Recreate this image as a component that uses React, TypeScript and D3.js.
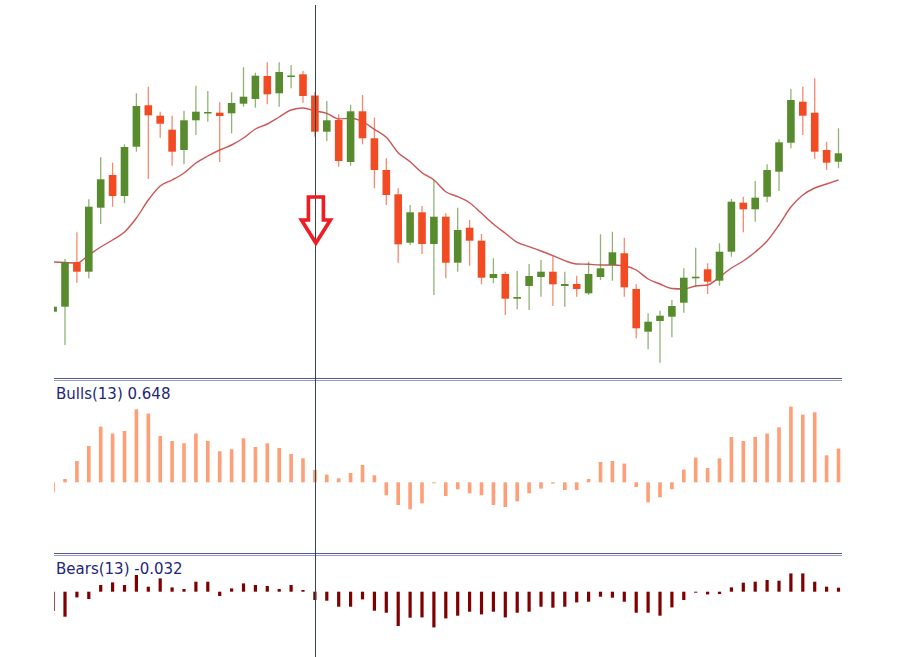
import React from "react";
import * as d3 from "d3";

// Candles (price units)
const opens = [88.3, 93.3, 137.7, 128.3, 192.3, 225, 204, 253.3, 294.7, 284.3, 270.3, 250, 279.7, 287.3, 287.3, 286.7, 296.3, 301, 324, 306.7, 324, 325.7, 304.5, 268.3, 280, 238, 288.7, 261.7, 230, 205.7, 157.3, 187.7, 156, 183.3, 137.3, 172.3, 159.3, 122, 126, 101.3, 114, 123, 128.3, 114, 116, 106.7, 123, 135, 146.7, 111, 68.3, 79, 83.3, 97.3, 121.7, 130.7, 119.3, 148.3, 197.3, 190.7, 203.3, 228.3, 257.3, 298.3, 287.3, 250, 238.3];
const highs = [96, 141, 167.7, 200.7, 242.7, 237.3, 255.7, 306.7, 313.3, 288.3, 284.3, 289.3, 314.3, 309, 297.7, 307.7, 332.7, 327.3, 337.7, 337.7, 335, 329, 308, 299, 285.7, 295.3, 305, 282.3, 241.7, 211.7, 195, 194, 220, 186.7, 192.3, 180, 166, 141.7, 128.3, 129, 136, 140, 144, 128.3, 124.3, 138.3, 165.7, 168.3, 162.3, 115.7, 86.7, 89.3, 100, 131.7, 152.3, 136.7, 156.7, 201, 203.3, 219, 235.7, 260.7, 311, 313.3, 321.7, 258.3, 271.7];
const lows = [87, 55, 117.3, 121.7, 176, 193.3, 196.7, 248.3, 221, 262.3, 234.3, 235.7, 265, 278.3, 238, 266.7, 293.3, 292.3, 295.7, 293.3, 311.7, 297.3, 263.3, 259, 233.3, 234.3, 255.7, 211.7, 195, 137.3, 155, 146, 105, 121.7, 128.3, 134.3, 115.7, 116.7, 85, 90.7, 90, 103.3, 94, 93.3, 103.3, 105, 120, 119.3, 103.3, 61.7, 50.7, 37.3, 62.7, 87.3, 113.3, 106, 114.3, 143.3, 167.7, 178.3, 197.7, 209, 251.7, 265, 241, 230, 231.7];
const closes = [93.3, 137.7, 128.3, 193.3, 220.7, 204, 253, 294, 284.7, 276.3, 248.3, 279.7, 288.3, 288, 284, 297, 303.3, 324.3, 305.7, 328, 324.5, 304, 268.3, 279.7, 239, 288.7, 261.7, 230, 205, 155.7, 187.7, 156, 183.3, 137.3, 170, 159.3, 122.3, 126, 101.3, 103, 124, 128.3, 115.7, 116, 111, 126, 131.7, 147.7, 112.7, 71.7, 78.3, 84.3, 94, 122.3, 123.3, 118.3, 148.3, 198.3, 190.7, 202.3, 230, 257.7, 300, 284.3, 248.3, 237.3, 246.7];

// Moving average (price units)
const maValues = [138, 137.5, 137, 145, 153, 160, 168, 182, 200, 214, 220, 227, 237, 244, 250, 255, 262, 271, 276, 283, 290, 292, 289, 286.7, 281, 281.7, 278.3, 270.7, 262.7, 247.3, 238.3, 227.3, 220, 208.3, 203.3, 197.3, 186.7, 176, 166.7, 157.7, 153.3, 149, 144.3, 139.3, 136, 135.7, 135, 135, 134, 130, 121, 116, 111.5, 111, 114, 115, 123, 132, 139, 148, 159, 175, 193, 205, 212, 216, 220];

// Bulls Power and Bears Power histograms
const bullsValues = [-10, 3.3, 21.3, 36.3, 55.7, 48.7, 51.3, 73, 68.7, 46.3, 41.3, 39, 48.7, 41.3, 31, 33, 44, 35.3, 39, 34.3, 28.3, 24, 12.3, 7.7, 4, 9.3, 17.3, 7, -13, -22.7, -27, -21, -1, -13.7, -7, -11, -13, -22.7, -24.7, -19, -11, -6.3, -1.3, -7.7, -7.7, 3.3, 20.3, 21.3, 18.7, -4.7, -20, -15, -7, 12.7, 24.7, 14.3, 24, 45.3, 41.3, 45.3, 48.7, 55, 75.7, 67.7, 70, 27, 33.7];
const bearsValues = [-19.3, -25, -5.7, -7.3, 6.7, 9.3, 6.7, 16.7, 5, 13.3, 4.3, 2.7, 10, 10, -4.3, 3.3, 8.3, 6.7, 5.7, 2.7, 6.7, 1.7, -8.3, -9, -15, -15, -7.7, -19, -21, -34.3, -26, -25.7, -35.7, -26.7, -24, -20, -22.7, -20, -25.7, -21, -20, -15, -16, -15, -10.7, -10, -5, -6, -10, -21, -21, -24, -15.7, -8.3, -1, -2.7, -2.3, 4.3, 9, 10, 11.7, 11, 18.3, 18.3, 10, 5, 4];

const bullsLabel = "Bulls(13) 0.648";
const bearsLabel = "Bears(13) -0.032";
const cursorIndex = 22;
const arrowTop = 203;
const arrowTip = 157;

const W = 900;
const H = 657;
const LEFT = 54;
const RIGHT = 842;

const GREEN = "#578b2d";
const RED = "#f24a22";

export default function App() {
  const idx = d3.range(opens.length);
  const x = d3.scaleLinear().domain([0, opens.length - 1]).range([53.1, 838.5]);
  const yMain = d3.scaleLinear().domain([0, 400]).range([400, 0]);
  const yBulls = d3.scaleLinear().domain([-40, 100]).range([522.3, 382.3]);
  const yBears = d3.scaleLinear().domain([-60, 40]).range([651.7, 551.7]);

  const maLine = d3
    .line<number>()
    .x((_, i) => x(i))
    .y((d) => yMain(d))
    .curve(d3.curveMonotoneX);

  const bodyW = 7.6;
  const cx = x(cursorIndex);
  const ax = cx + 1;
  const aTop = yMain(arrowTop);
  const aTip = yMain(arrowTip);
  const shoulder = aTop + (aTip - aTop) * 0.5;
  const sh = 7.5;
  const hh = 14.5;
  const arrowPath = [
    [ax - sh, aTop],
    [ax + sh, aTop],
    [ax + sh, shoulder],
    [ax + hh, shoulder],
    [ax, aTip],
    [ax - hh, shoulder],
    [ax - sh, shoulder],
  ]
    .map((p, i) => (i === 0 ? "M" : "L") + p[0] + "," + p[1])
    .join("") + "Z";

  return (
    <svg
      width={W}
      height={H}
      style={{ position: "absolute", left: 0, top: 0, background: "#fff" }}
    >
      <defs>
        <clipPath id="plot">
          <rect x={LEFT} y={0} width={RIGHT - LEFT} height={H} />
        </clipPath>
      </defs>
      <rect x={0} y={0} width={W} height={H} fill="#fff" />
      <g clipPath="url(#plot)">
        <path d={maLine(maValues) || ""} fill="none" stroke="#cc5555" strokeWidth={1.4} />
        {idx.map((i) => {
          const up = closes[i] >= opens[i];
          const col = up ? GREEN : RED;
          const top = yMain(Math.max(opens[i], closes[i]));
          const bot = yMain(Math.min(opens[i], closes[i]));
          return (
            <g key={i}>
              <line
                x1={x(i)}
                x2={x(i)}
                y1={yMain(highs[i])}
                y2={yMain(lows[i])}
                stroke={col}
                strokeOpacity={0.65}
                strokeWidth={1.3}
              />
              <rect
                x={x(i) - bodyW / 2}
                y={top}
                width={bodyW}
                height={Math.max(1.5, bot - top)}
                fill={col}
              />
            </g>
          );
        })}
        {idx.map((i) => {
          const v = bullsValues[i];
          const y0 = yBulls(0);
          const y1 = yBulls(v);
          return (
            <rect
              key={"b" + i}
              x={x(i) - 1.8}
              y={Math.min(y0, y1)}
              width={3.6}
              height={Math.max(1, Math.abs(y1 - y0))}
              fill="#ff9f78"
            />
          );
        })}
        {idx.map((i) => {
          const v = bearsValues[i];
          const y0 = yBears(0);
          const y1 = yBears(v);
          return (
            <rect
              key={"r" + i}
              x={x(i) - 1.6}
              y={Math.min(y0, y1)}
              width={3.2}
              height={Math.max(1, Math.abs(y1 - y0))}
              fill="#7f0000"
            />
          );
        })}
      </g>
      <line x1={LEFT} x2={RIGHT} y1={378.5} y2={378.5} stroke="#55559a" strokeWidth={1.2} />
      <line x1={LEFT} x2={RIGHT} y1={380.5} y2={380.5} stroke="#9a9ac6" strokeWidth={1} />
      <line x1={LEFT} x2={RIGHT} y1={553.5} y2={553.5} stroke="#55559a" strokeWidth={1.2} />
      <line x1={LEFT} x2={RIGHT} y1={555.5} y2={555.5} stroke="#9a9ac6" strokeWidth={1} />
      <text x={56} y={399} fontFamily="DejaVu Sans, Verdana, sans-serif" fontSize={15} fill="#1e2678">
        {bullsLabel}
      </text>
      <text x={56} y={574} fontFamily="DejaVu Sans, Verdana, sans-serif" fontSize={15} fill="#1e2678">
        {bearsLabel}
      </text>
      <line x1={Math.round(cx) + 0.5} x2={Math.round(cx) + 0.5} y1={5} y2={H} stroke="#2f4848" strokeWidth={1} />
      <path d={arrowPath} fill="none" stroke="#ee1c25" strokeWidth={3.6} strokeLinejoin="miter" />
    </svg>
  );
}
